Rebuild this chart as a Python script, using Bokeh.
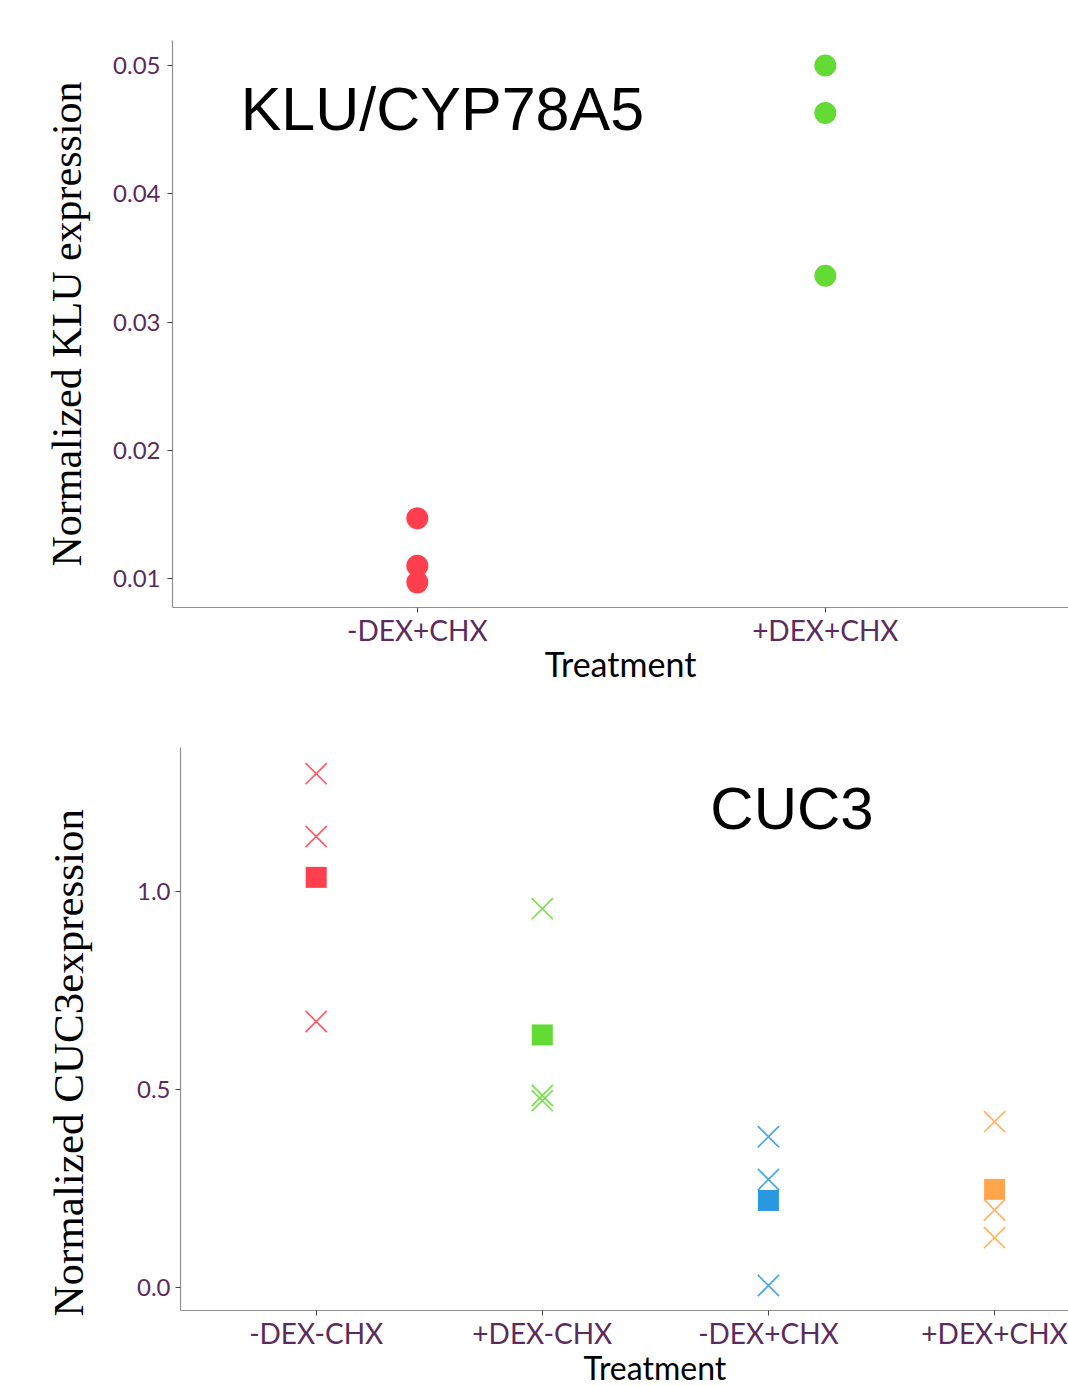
from bokeh.plotting import figure
from bokeh.models import Range1d, FixedTicker, Label, Title, ColumnDataSource
from bokeh.embed import file_html
from bokeh.resources import INLINE

# ---- data: top panel (KLU/CYP78A5)
klu_cats = ["-DEX+CHX", "+DEX+CHX"]
klu_minus = [0.0147, 0.0110, 0.0097]
klu_plus = [0.0500, 0.0463, 0.0336]
klu_colors = ["#FF3F4E", "#63DB34"]

# ---- data: bottom panel (CUC3)
cuc_cats = ["-DEX-CHX", "+DEX-CHX", "-DEX+CHX", "+DEX+CHX"]
cuc_reps = [
    [1.298, 1.139, 0.672],
    [0.957, 0.485, 0.472],
    [0.381, 0.273, 0.005],
    [0.419, 0.196, 0.126],
]
cuc_mean = [1.036, 0.638, 0.220, 0.248]
cuc_colors = ["#FF3F4E", "#63DB34", "#2A98E0", "#FFA64D"]

TICK_COLOR = "#5C2B5E"
AX_COLOR = "#8f8f8f"


def style(p):
    p.xgrid.visible = False
    p.ygrid.visible = False
    p.outline_line_color = None
    p.background_fill_color = "white"
    p.border_fill_color = "white"
    for ax in (p.xaxis[0], p.yaxis[0]):
        ax.axis_line_color = AX_COLOR
        ax.axis_line_width = 1.2
        ax.major_tick_line_color = "#444444"
        ax.major_tick_out = 5
        ax.major_tick_in = 0
        ax.minor_tick_line_color = None
        ax.major_label_text_color = TICK_COLOR
        ax.major_label_text_font = "Lato"
        ax.axis_label_text_font_style = "normal"
        ax.axis_label_text_color = "black"
    p.yaxis[0].major_label_text_font_size = "24px"
    p.xaxis[0].major_label_text_font_size = "28px"
    p.xaxis[0].major_label_standoff = 0


# ---- top figure
p1 = figure(width=1068, height=690, output_backend="svg", toolbar_location=None,
            x_range=Range1d(0.4, 2.596), y_range=Range1d(0.00774, 0.05195),
            min_border_left=172, min_border_top=40, min_border_right=0,
            min_border_bottom=83)
style(p1)
p1.xaxis[0].ticker = FixedTicker(ticks=[1, 2])
p1.xaxis[0].major_label_overrides = {1: klu_cats[0], 2: klu_cats[1]}
p1.yaxis[0].ticker = FixedTicker(ticks=[0.01, 0.02, 0.03, 0.04, 0.05])
p1.xaxis[0].axis_label = "Treatment"
p1.xaxis[0].axis_label_text_font = "Lato"
p1.xaxis[0].axis_label_text_font_size = "34px"
p1.xaxis[0].axis_label_standoff = -7
p1.yaxis[0].axis_label = "Normalized KLU expression"
p1.yaxis[0].axis_label_text_font = "Liberation Serif"
p1.yaxis[0].axis_label_text_font_size = "42px"
p1.yaxis[0].axis_label_standoff = 20
p1.yaxis[0].major_label_standoff = 7

for i, vals in enumerate([klu_minus, klu_plus]):
    src = ColumnDataSource(dict(x=[i + 1] * len(vals), y=vals))
    p1.scatter("x", "y", source=src, size=22, marker="circle",
               fill_color=klu_colors[i], line_color=None)

p1.add_layout(Label(x=0.567, y=0.0466, text="KLU/CYP78A5", text_font="Liberation Sans",
                    text_font_size="61px", text_color="black", text_baseline="middle"))

# ---- bottom figure
p2 = figure(width=1068, height=696, output_backend="svg", toolbar_location=None,
            x_range=Range1d(0.4, 4.327), y_range=Range1d(-0.058, 1.364),
            min_border_left=180, min_border_top=57, min_border_right=0,
            min_border_bottom=76)
style(p2)
p2.xaxis[0].ticker = FixedTicker(ticks=[1, 2, 3, 4])
p2.xaxis[0].major_label_overrides = {i + 1: c for i, c in enumerate(cuc_cats)}
p2.yaxis[0].ticker = FixedTicker(ticks=[0.0, 0.5, 1.0])
p2.yaxis[0].major_label_overrides = {0: "0.0", 0.5: "0.5", 1: "1.0"}
p2.yaxis[0].major_label_standoff = 5

for i, vals in enumerate(cuc_reps):
    src = ColumnDataSource(dict(x=[i + 1] * len(vals), y=vals))
    p2.scatter("x", "y", source=src, size=30, marker="x",
               line_color=cuc_colors[i], line_width=1.7, line_alpha=0.85)
    p2.scatter([i + 1], [cuc_mean[i]], size=21, marker="square",
               fill_color=cuc_colors[i], line_color=None)

p2.add_layout(Label(x=2.743, y=1.21, text="CUC3", text_font="Liberation Sans",
                    text_font_size="60px", text_color="black", text_baseline="middle"))
# axis titles of the lower panel (placed for the full, partly cropped panel)
p2.add_layout(Title(text="Treatment", align="left", offset=403, standoff=-14,
                    text_font="Lato", text_font_size="32px", text_font_style="normal",
                    text_color="black"), "below")
p2.add_layout(Title(text="Normalized CUC3expression", align="left", offset=-6,
                    standoff=84, text_font="Liberation Serif", text_font_size="43px",
                    text_font_style="normal", text_color="black"), "left")

open("out.html", "w").write(file_html([p1, p2], INLINE))
